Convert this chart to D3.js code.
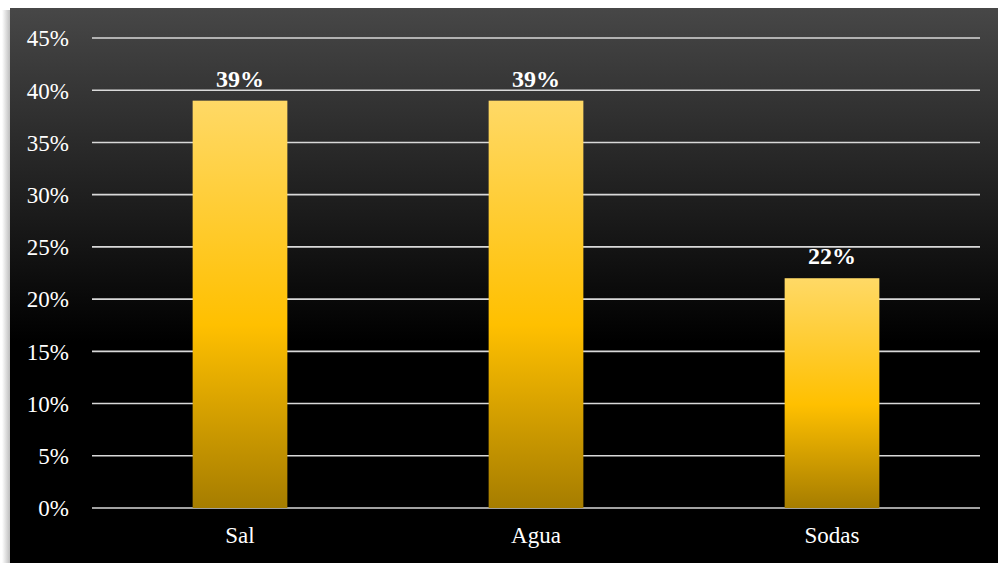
<!DOCTYPE html>
<html>
<head>
<meta charset="utf-8">
<script src="https://cdn.jsdelivr.net/npm/d3@7"></script>
<style>
  html, body { margin: 0; padding: 0; background: #ffffff; }
  svg { display: block; }
  svg text { font-family: "Liberation Serif", "DejaVu Serif", "Times New Roman", serif; }
</style>
</head>
<body>
<svg id="chart" width="998" height="563"></svg>
<script>
// Share of responses per product
const categories = ["Sal", "Agua", "Sodas"];
const values = [0.39, 0.39, 0.22];
const tickValues = [0, 0.05, 0.10, 0.15, 0.20, 0.25, 0.30, 0.35, 0.40, 0.45];

const W = 998, H = 563;
const serif = '"Liberation Serif", "DejaVu Serif", "Times New Roman", serif';
const svg = d3.select("#chart");
const defs = svg.append("defs");

// dark panel fading to black
const bg = defs.append("linearGradient").attr("id", "bgGrad")
  .attr("x1", 0).attr("y1", 0).attr("x2", 0).attr("y2", 1);
bg.append("stop").attr("offset", "0%").attr("stop-color", "#474747");
bg.append("stop").attr("offset", "60%").attr("stop-color", "#000000");
bg.append("stop").attr("offset", "100%").attr("stop-color", "#000000");

// soft shadow to the left of the panel
const sh = defs.append("linearGradient").attr("id", "shadowGrad")
  .attr("x1", 0).attr("y1", 0).attr("x2", 1).attr("y2", 0);
sh.append("stop").attr("offset", "0%").attr("stop-color", "#ffffff");
sh.append("stop").attr("offset", "100%").attr("stop-color", "#bdbdbd");

// golden bar fill
const barGrad = defs.append("linearGradient").attr("id", "barGrad")
  .attr("x1", 0).attr("y1", 0).attr("x2", 0).attr("y2", 1);
barGrad.append("stop").attr("offset", "0%").attr("stop-color", "#FFD966");
barGrad.append("stop").attr("offset", "55%").attr("stop-color", "#FFC000");
barGrad.append("stop").attr("offset", "100%").attr("stop-color", "#A67D00");

svg.append("rect").attr("x", 2).attr("y", 10).attr("width", 8).attr("height", H - 10)
  .attr("fill", "url(#shadowGrad)");
svg.append("rect").attr("x", 10).attr("y", 8).attr("width", W - 10).attr("height", H - 8)
  .attr("fill", "url(#bgGrad)");

const plotLeft = 92, plotRight = 980, plotTop = 38, plotBottom = 508;

const x = d3.scaleBand().domain(categories).range([plotLeft, plotRight])
  .paddingInner(0.68).paddingOuter(0.34);
const y = d3.scaleLinear().domain([0, 0.45]).range([plotBottom, plotTop]);

// horizontal gridlines
svg.append("g").selectAll("line").data(tickValues).join("line")
  .attr("x1", plotLeft).attr("x2", plotRight)
  .attr("y1", d => y(d)).attr("y2", d => y(d))
  .attr("stroke", "#d9d9d9").attr("stroke-width", 1.6);

// y-axis labels
const yAxis = d3.axisLeft(y).tickValues(tickValues)
  .tickFormat(d3.format(".0%")).tickSize(0).tickPadding(0);
const yg = svg.append("g").attr("transform", `translate(69,0)`).call(yAxis);
yg.select(".domain").remove();
yg.attr("font-family", null).attr("font-size", null);
yg.selectAll("text")
  .attr("fill", "#ffffff")
  .style("font-family", serif)
  .style("font-size", "23px")
  .attr("dy", "0.34em");

// bars
svg.append("g").selectAll("rect").data(categories).join("rect")
  .attr("x", d => x(d))
  .attr("width", x.bandwidth())
  .attr("y", (d, i) => y(values[i]))
  .attr("height", (d, i) => y(0) - y(values[i]))
  .attr("fill", "url(#barGrad)");

// value labels
svg.append("g").selectAll("text").data(categories).join("text")
  .attr("x", d => x(d) + x.bandwidth() / 2)
  .attr("y", (d, i) => y(values[i]) - 14)
  .attr("text-anchor", "middle")
  .attr("fill", "#ffffff")
  .style("font-family", serif)
  .style("font-weight", "bold")
  .style("font-size", "24px")
  .text((d, i) => d3.format(".0%")(values[i]));

// category labels
const xAxis = d3.axisBottom(x).tickSize(0).tickPadding(0);
const xg = svg.append("g").attr("transform", `translate(0,${plotBottom + 35})`).call(xAxis);
xg.select(".domain").remove();
xg.attr("font-family", null).attr("font-size", null);
xg.selectAll("text")
  .attr("fill", "#ffffff")
  .style("font-family", serif)
  .style("font-size", "23px")
  .attr("dy", "0");
</script>
</body>
</html>
